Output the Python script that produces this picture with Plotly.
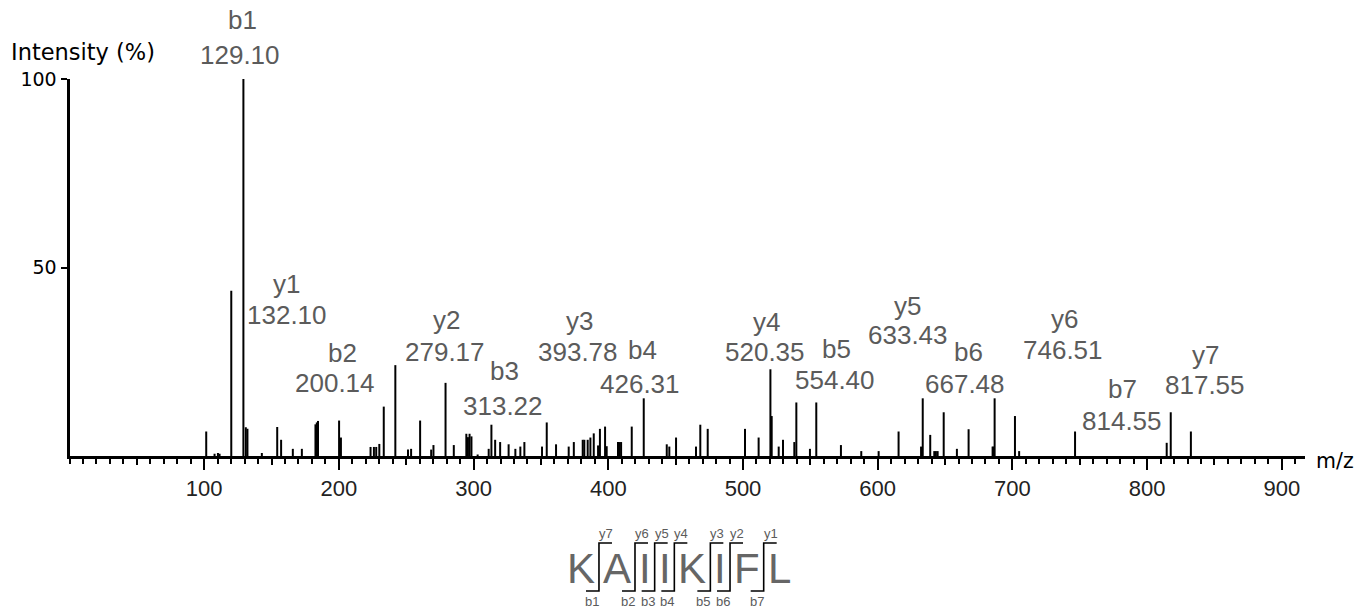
import plotly.graph_objects as go

W, H = 1358, 609

# ---- spectrum data -------------------------------------------------------
# unassigned peaks: m/z and relative intensity (%)
other_mz = [101.5, 107.7, 110.2, 111.4, 120.1, 130.9, 142.8, 154.2, 157.1, 165.8,
            172.5, 182.6, 183.6, 184.5, 201.5, 223.5, 226.0, 227.7, 230.0, 233.3,
            241.9, 251.3, 253.6, 260.3, 268.5, 270.2, 285.3, 294.6, 295.8, 297.0,
            298.4, 303.0, 311.2, 316.0, 319.7, 326.0, 331.0, 334.7, 337.7, 350.8,
            354.3, 361.2, 370.6, 374.4, 381.0, 382.2, 384.7, 386.7, 389.2, 392.4,
            397.6, 398.8, 407.2, 408.4, 409.5, 417.4, 443.4, 445.3, 450.3, 465.1,
            468.3, 473.8, 501.5, 511.6, 521.3, 526.5, 529.7, 538.1, 539.6, 549.7,
            572.7, 587.8, 600.7, 615.5, 632.2, 639.0, 642.0, 643.2, 644.5, 649.0,
            658.8, 685.3, 686.0, 686.8, 701.9, 705.0, 832.5]
other_int = [6.5, 0.6, 0.8, 0.6, 43.8, 7.6, 0.8, 7.7, 4.3, 1.9,
             1.9, 8.4, 8.9, 9.3, 4.9, 2.4, 2.4, 2.4, 3.2, 13.1,
             24.1, 1.7, 1.9, 9.4, 1.7, 2.9, 2.9, 5.9, 5.0, 5.9,
             5.2, 0.4, 1.9, 4.3, 3.7, 3.1, 1.9, 2.5, 3.7, 2.5,
             8.9, 3.1, 2.5, 3.7, 4.3, 4.3, 4.3, 4.9, 6.0, 2.8,
             7.8, 2.6, 3.7, 3.7, 3.7, 7.8, 3.1, 2.5, 4.9, 2.5,
             8.3, 7.2, 7.2, 4.9, 10.6, 2.5, 4.3, 3.7, 14.2, 1.9,
             2.9, 1.3, 1.3, 6.5, 2.5, 5.6, 1.3, 1.3, 1.3, 11.6,
             1.9, 2.5, 2.5, 15.3, 10.6, 1.3, 6.5]

# assigned fragment ions
ion_names = ["b1", "y1", "b2", "y2", "b3", "y3", "b4", "y4", "b5", "y5", "b6", "y6", "b7", "y7"]
ion_mz = [129.10, 132.10, 200.14, 279.17, 313.22, 393.78, 426.31, 520.35,
          554.40, 633.43, 667.48, 746.51, 814.55, 817.55]
ion_int = [100.0, 7.2, 9.4, 19.4, 8.3, 7.2, 15.3, 23.0, 14.2, 15.3, 7.1, 6.5, 3.5, 11.6]

x_ticks = [100, 200, 300, 400, 500, 600, 700, 800, 900]
x_mid_ticks = [50, 150, 250, 350, 450, 550, 650, 750, 850]
y_ticks = [50, 100]

sequence = "KAIIKIFL"

# ---- layout constants (pixels) ----------------------------------------
X0, X1 = 69.5, 1304.7          # plot area left / right
Y_TOP, Y_BASE = 79, 456        # 100 % and 0 % rows
X_MAX = 917
LABEL_COLOR = "#5b5b5b"
LABEL_FONT = dict(family="Liberation Sans, Arial, sans-serif", size=26, color=LABEL_COLOR)

# label centres: (name x, name y, value x, value y)
label_pos = [
    (242, 20, 240, 55), (286, 284, 287, 315), (342, 353, 335, 383),
    (446, 320, 445, 352), (504, 371, 503, 406), (579, 321, 578, 352),
    (642, 350, 640, 384), (766, 322, 765, 352), (836, 349, 835, 380),
    (907, 306, 908, 335), (968, 352, 965, 384), (1064, 319, 1063, 350),
    (1122, 389, 1122, 421), (1205, 355, 1205, 385),
]

fig = go.Figure()

# stick spectrum
all_mz = other_mz + ion_mz
all_int = other_int + ion_int
sx, sy = [], []
for m, v in zip(all_mz, all_int):
    sx += [m, m, None]
    sy += [0, v, None]
fig.add_trace(go.Scatter(x=sx, y=sy, mode="lines", line=dict(color="black", width=2),
                         hoverinfo="skip", showlegend=False, xaxis="x", yaxis="y"))
# carrier for the 50-step tick axis
fig.add_trace(go.Scatter(x=[None], y=[None], mode="markers", showlegend=False,
                         xaxis="x3", yaxis="y", hoverinfo="skip"))

annotations = []
for name, m, (nx, ny, vx, vy) in zip(ion_names, ion_mz, label_pos):
    annotations.append(dict(x=nx, y=ny, xref="x2", yref="y2", text=name, showarrow=False,
                            xanchor="center", yanchor="middle", font=LABEL_FONT))
    annotations.append(dict(x=vx, y=vy, xref="x2", yref="y2", text=f"{m:.2f}", showarrow=False,
                            xanchor="center", yanchor="middle", font=LABEL_FONT))

axis_font = dict(family="DejaVu Sans, sans-serif", size=19, color="black")
annotations.append(dict(x=9, y=52, xref="x2", yref="y2", text="Intensity (%)", showarrow=False,
                        xanchor="left", yanchor="middle",
                        font=dict(family="DejaVu Sans, sans-serif", size=22.5, color="black")))
annotations.append(dict(x=1314, y=461, xref="x2", yref="y2", text="m/z", showarrow=False,
                        xanchor="left", yanchor="middle",
                        font=dict(family="DejaVu Sans, sans-serif", size=20.5, color="black")))

# ---- peptide sequence with fragment brackets --------------------------
adv = {"K": 0.667, "A": 0.667, "I": 0.278, "F": 0.611, "L": 0.556}
seq_size = 42
gap = 8
widths = [adv[c] * seq_size for c in sequence]
total = sum(widths) + gap * (len(sequence) - 1)
cur = W / 2 - total / 2
centers, seps = [], []
for i, w in enumerate(widths):
    centers.append(cur + w / 2)
    cur += w
    if i < len(widths) - 1:
        seps.append(cur + gap / 2)
        cur += gap

seq_y = 568
top_y, bot_y, arm = 543, 591, 13
for c, ch in zip(centers, sequence):
    annotations.append(dict(x=c, y=seq_y, xref="x2", yref="y2", text=ch, showarrow=False,
                            xanchor="center", yanchor="middle",
                            font=dict(family="Liberation Sans, Arial, sans-serif",
                                      size=seq_size, color="#666666")))
bx, by = [], []
n = len(sequence)
small_font = dict(family="Liberation Sans, Arial, sans-serif", size=13, color=LABEL_COLOR)
for i, s in enumerate(seps, start=1):
    bx += [s - arm, s, s, s + arm, None]
    by += [bot_y, bot_y, top_y, top_y, None]
    annotations.append(dict(x=s + 7, y=top_y - 10, xref="x2", yref="y2", text=f"y{n - i}",
                            showarrow=False, xanchor="center", yanchor="middle", font=small_font))
    annotations.append(dict(x=s - 7, y=bot_y + 10, xref="x2", yref="y2", text=f"b{i}",
                            showarrow=False, xanchor="center", yanchor="middle", font=small_font))
fig.add_trace(go.Scatter(x=bx, y=by, mode="lines", line=dict(color="black", width=1.6),
                         hoverinfo="skip", showlegend=False, xaxis="x2", yaxis="y2",
                         cliponaxis=False))

fig.update_layout(
    template="none",
    width=W, height=H, margin=dict(l=0, r=0, t=0, b=0, pad=0), autosize=False,
    paper_bgcolor="white", plot_bgcolor="rgba(0,0,0,0)", showlegend=False,
    xaxis=dict(domain=[X0 / W, X1 / W], range=[0, X_MAX], anchor="y", automargin=False,
               showline=True, linecolor="black", linewidth=3,
               ticks="outside", tickvals=x_ticks, ticklen=11, tickwidth=2, tickcolor="black",
               tickfont=dict(family="Liberation Sans, Arial, sans-serif", size=22, color="#222222"),
               minor=dict(tick0=0, dtick=10, ticks="outside", ticklen=5, tickwidth=1.5,
                          tickcolor="black", showgrid=False),
               showgrid=False, zeroline=False, fixedrange=True),
    xaxis3=dict(overlaying="x", anchor="y", range=[0, X_MAX], showline=False, automargin=False,
                ticks="outside", tickvals=x_mid_ticks, ticklen=8, tickwidth=1.5,
                tickcolor="black", showticklabels=False, showgrid=False, zeroline=False,
                fixedrange=True),
    yaxis=dict(domain=[(H - Y_BASE) / H, (H - Y_TOP) / H], range=[0, 100], anchor="x",
               automargin=False,
               showline=True, linecolor="black", linewidth=3,
               ticks="outside", tickvals=y_ticks, ticklen=6, tickwidth=2, tickcolor="black",
               tickfont=axis_font, showgrid=False, zeroline=False, fixedrange=True),
    xaxis2=dict(domain=[0, 1], range=[0, W], anchor="y2", visible=False, fixedrange=True,
                automargin=False),
    yaxis2=dict(domain=[0, 1], range=[H, 0], anchor="x2", visible=False, fixedrange=True,
                automargin=False),
    annotations=annotations,
)

fig.write_html("out.html")
